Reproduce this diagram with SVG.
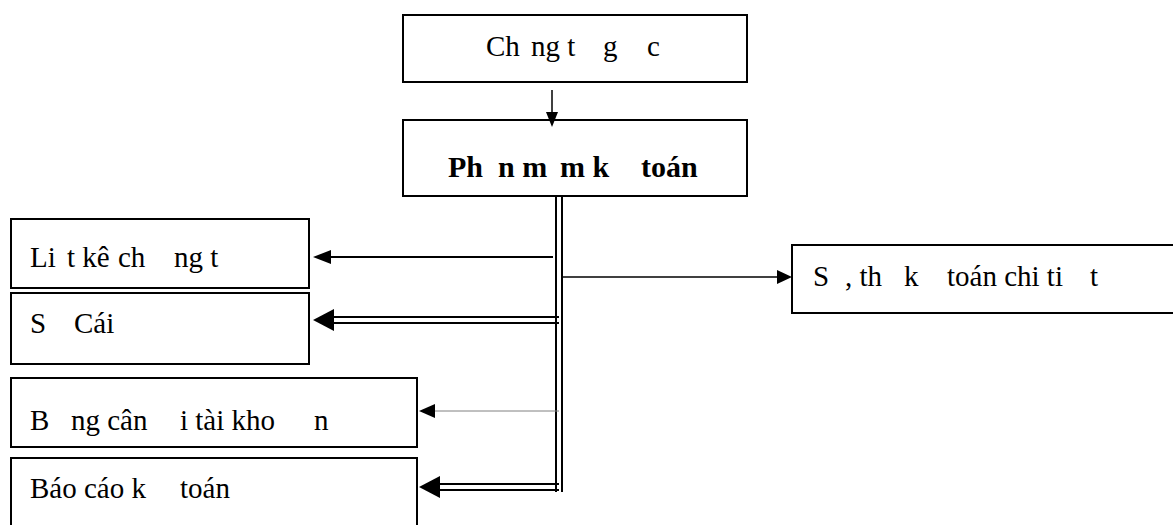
<svg xmlns="http://www.w3.org/2000/svg" width="1173" height="525" viewBox="0 0 1173 525">
  <style>
    .box { fill: #ffffff; stroke: #000000; stroke-width: 2; }
    .lbl { font-family: "Liberation Serif", "Times New Roman", serif; font-size: 29px; fill: #000000; }
    .bold { font-weight: bold; font-size: 30px; }
    .ln { stroke: #000000; stroke-width: 2; fill: none; }
    .thin { stroke: #000000; stroke-width: 1.5; fill: none; }
    .grey { stroke: #808080; stroke-width: 1; fill: none; }
    .head { fill: #000000; stroke: none; }
  </style>

  <!-- source documents -->
  <g id="chung-tu-goc">
    <rect class="box" x="403" y="15" width="344" height="67"/>
    <text class="lbl" y="56"><tspan x="486">Ch</tspan><tspan x="531">ng t</tspan><tspan x="603">g</tspan><tspan x="647">c</tspan></text>
  </g>

  <!-- accounting software -->
  <g id="phan-mem">
    <rect class="box" x="403" y="120" width="344" height="76"/>
    <text class="lbl bold" y="177"><tspan x="448">Ph</tspan><tspan x="498">n m</tspan><tspan x="560">m k</tspan><tspan x="641">toán</tspan></text>
  </g>

  <g id="liet-ke">
    <rect class="box" x="11" y="219" width="298" height="69"/>
    <text class="lbl" y="267"><tspan x="30">Li</tspan><tspan x="67">t kê</tspan><tspan x="118">ch</tspan><tspan x="174">ng t</tspan></text>
  </g>

  <g id="so-cai">
    <rect class="box" x="11" y="293" width="298" height="71"/>
    <text class="lbl" y="333"><tspan x="30">S</tspan><tspan x="74">Cái</tspan></text>
  </g>

  <g id="bang-can-doi">
    <rect class="box" x="11" y="378" width="406" height="69"/>
    <text class="lbl" y="430"><tspan x="30">B</tspan><tspan x="71">ng cân</tspan><tspan x="180">i tài kho</tspan><tspan x="314">n</tspan></text>
  </g>

  <g id="bao-cao">
    <rect class="box" x="11" y="458" width="406" height="80"/>
    <text class="lbl" y="498"><tspan x="30">Báo cáo k</tspan><tspan x="180">toán</tspan></text>
  </g>

  <g id="so-chi-tiet">
    <rect class="box" x="792" y="245" width="400" height="68"/>
    <text class="lbl" y="286"><tspan x="813">S</tspan><tspan x="845">, th</tspan><tspan x="904">k</tspan><tspan x="947">toán chi ti</tspan><tspan x="1090">t</tspan></text>
  </g>

  <g id="connectors">
    <!-- down arrow between the two top boxes -->
    <line class="thin" x1="552" y1="90" x2="552" y2="114"/>
    <polygon class="head" points="546,112 558,112 552,127"/>

    <!-- double trunk -->
    <line class="ln" x1="556" y1="196" x2="556" y2="492"/>
    <line class="ln" x1="562" y1="196" x2="562" y2="492"/>

    <!-- to listing -->
    <line class="ln" x1="553" y1="257" x2="328" y2="257"/>
    <polygon class="head" points="313,257 331,250 331,264"/>

    <!-- to general ledger (double) -->
    <line class="ln" x1="559" y1="317" x2="330" y2="317"/>
    <line class="ln" x1="559" y1="323" x2="330" y2="323"/>
    <polygon class="head" points="313,320 334,309 334,331"/>

    <!-- to detail books -->
    <line class="thin" x1="562" y1="277" x2="778" y2="277"/>
    <polygon class="head" points="792,277 777,270 777,284"/>

    <!-- to trial balance (grey) -->
    <line class="grey" x1="559" y1="411" x2="432" y2="411"/>
    <polygon class="head" points="419,411 435,404 435,418"/>

    <!-- to reports (double) -->
    <line class="ln" x1="559" y1="484" x2="436" y2="484"/>
    <line class="ln" x1="559" y1="490" x2="436" y2="490"/>
    <polygon class="head" points="419,487 440,476 440,498"/>
  </g>
</svg>
